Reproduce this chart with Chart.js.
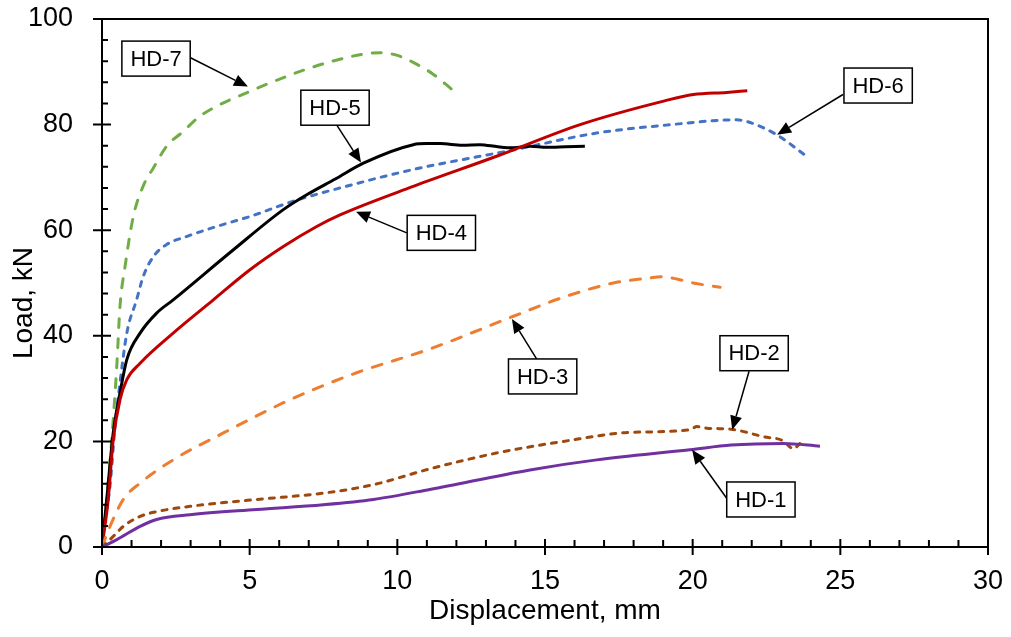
<!DOCTYPE html>
<html>
<head>
<meta charset="utf-8">
<script src="https://cdn.jsdelivr.net/npm/chart.js@4.4.0/dist/chart.umd.min.js"></script>
<style>
  html, body { margin: 0; padding: 0; background: #fff; }
</style>
</head>
<body>
<canvas id="loadChart" width="1011" height="637"></canvas>
<script>
// Load-displacement curves
const hd1X = [0, 0.5, 1.29, 1.85, 2.98, 5.24, 7.49, 9.19, 11.1, 14.49, 16.75, 19.91, 21.3, 23.07, 24.31];
const hd1Y = [0, 1.4, 3.9, 5.2, 6.1, 7.1, 8.0, 9.0, 10.9, 14.6, 16.5, 18.4, 19.3, 19.6, 19.1];

const hd2X = [0, 0.38, 0.72, 1.29, 1.85, 2.98, 5.24, 7.49, 9.19, 11.1, 13.36, 15.62, 17.88, 19.91, 20.14, 20.48, 21.3, 22.39, 23.07, 23.41, 23.63];
const hd2Y = [0, 2.0, 3.9, 5.8, 6.7, 7.7, 9.0, 10.2, 11.8, 14.8, 17.8, 20.0, 21.7, 22.2, 22.8, 22.5, 22.3, 20.9, 20.1, 18.6, 19.6];

const hd3X = [0, 0.27, 0.72, 1.29, 2.41, 4.11, 6.37, 8.62, 11.1, 13.93, 15.62, 17.32, 18.45, 19.0, 19.5, 20.02, 20.93];
const hd3Y = [0, 3.9, 9.0, 12.1, 16.5, 21.6, 27.9, 33.0, 37.5, 43.7, 47.3, 50.0, 50.9, 51.2, 50.7, 50.0, 49.2];

const hd4X = [0, 0.21, 0.38, 0.61, 0.84, 1.29, 2.41, 3.77, 5.01, 6.14, 7.27, 8.06, 10.54, 13.36, 16.19, 19.05, 20.02, 21.15, 21.85];
const hd4Y = [0, 9, 20.3, 27.9, 31.7, 34.8, 40.5, 46.8, 52.5, 56.9, 60.7, 62.9, 68.3, 74.0, 80.0, 84.5, 85.7, 86.1, 86.4];

const hd5X = [0, 0.16, 0.38, 0.61, 0.84, 1.29, 1.85, 2.41, 4.45, 6.14, 6.93, 7.9, 8.85, 10.54, 11.0, 11.45, 12.2, 12.8, 13.4, 13.93, 14.5, 15.06, 15.7, 16.35];
const hd5Y = [0, 9, 21.6, 29.2, 35.5, 40.5, 44.3, 46.8, 56.3, 63.9, 66.7, 69.7, 72.7, 76.2, 76.4, 76.4, 76.1, 76.2, 75.8, 75.6, 75.9, 75.7, 75.8, 75.9];

const hd6X = [0, 0.04, 0.27, 0.44, 0.61, 0.84, 1.17, 1.4, 1.74, 2.19, 2.86, 3.88, 5.01, 6.48, 8.06, 10.54, 13.93, 16.75, 19.1, 21.49, 21.83, 22.84, 23.81];
const hd6Y = [0, 2.6, 11.5, 22.8, 31.1, 40.5, 46.8, 51.3, 55.0, 57.3, 58.8, 60.7, 62.6, 65.5, 68.0, 71.5, 75.2, 78.4, 79.9, 80.9, 80.6, 78.1, 74.2];

const hd7X = [0, 0.16, 0.33, 0.5, 0.61, 0.78, 1.06, 1.39, 1.74, 2.19, 2.75, 3.32, 5.01, 7.8, 9.41, 10.0, 10.6, 11.2, 11.84];
const hd7Y = [0, 9.0, 20.3, 34.2, 45.6, 53.1, 62.6, 68.3, 71.8, 75.9, 78.7, 81.6, 86.3, 92.0, 93.6, 93.1, 91.6, 89.6, 86.7];

// Callout labels: box centre and arrow tail/tip, in data units
const calloutNames = ["HD-1", "HD-2", "HD-3", "HD-4", "HD-5", "HD-6", "HD-7"];
const calloutBox = [[22.31, 9.0], [22.08, 36.7], [14.92, 32.3], [11.49, 59.5], [7.89, 83.2], [26.28, 87.4], [1.83, 92.5]];
const calloutTail = [[21.17, 9.1], [21.91, 33.3], [14.73, 35.5], [10.32, 59.5], [7.95, 79.9], [25.09, 85.7], [2.98, 92.7]];
const calloutTip = [[19.98, 18.4], [21.34, 22.2], [13.88, 43.2], [8.6, 63.5], [8.77, 72.8], [22.86, 78.1], [4.94, 87.2]];

const FONT = "'Liberation Sans', Arial, sans-serif";
Chart.defaults.font.family = FONT;
Chart.defaults.color = "#000";

function pts(xs, ys) {
  return xs.map((x, i) => ({ x: x, y: ys[i] }));
}

function series(label, xs, ys, color, dash) {
  return {
    label: label,
    data: pts(xs, ys),
    borderColor: color,
    borderWidth: 3,
    borderDash: dash,
    borderCapStyle: dash.length ? "round" : "butt",
    borderJoinStyle: "round",
    pointRadius: 0,
    showLine: true,
    fill: false,
    cubicInterpolationMode: "monotone"
  };
}

// Frame, tick marks, y title and callouts
const decorations = {
  id: "decorations",
  afterDraw(chart) {
    const { ctx, chartArea: a, scales: { x, y } } = chart;
    ctx.save();
    ctx.strokeStyle = "#000";
    ctx.lineWidth = 2;
    ctx.strokeRect(a.left, a.top, a.right - a.left, a.bottom - a.top);

    ctx.beginPath();
    for (let v = 0; v <= 30; v += 1) {
      const px = x.getPixelForValue(v);
      if (v % 5 === 0) { ctx.moveTo(px, a.bottom - 8); ctx.lineTo(px, a.bottom + 8); }
      else { ctx.moveTo(px, a.bottom - 7); ctx.lineTo(px, a.bottom); }
    }
    for (let v = 0; v <= 100; v += 4) {
      const py = y.getPixelForValue(v);
      if (v % 20 === 0) { ctx.moveTo(a.left - 9, py); ctx.lineTo(a.left + 9, py); }
      else { ctx.moveTo(a.left, py); ctx.lineTo(a.left + 6, py); }
    }
    ctx.stroke();

    // y axis title (sits a little below the centre, as in the reference)
    ctx.save();
    ctx.translate(24, 303);
    ctx.rotate(-Math.PI / 2);
    ctx.font = "28px " + FONT;
    ctx.fillStyle = "#000";
    ctx.textAlign = "center";
    ctx.textBaseline = "middle";
    ctx.fillText("Load, kN", 0, 0);
    ctx.restore();

    // callouts
    ctx.font = "22px " + FONT;
    ctx.textAlign = "center";
    ctx.textBaseline = "middle";
    calloutNames.forEach((name, i) => {
      const tx = x.getPixelForValue(calloutTail[i][0]);
      const ty = y.getPixelForValue(calloutTail[i][1]);
      const hx = x.getPixelForValue(calloutTip[i][0]);
      const hy = y.getPixelForValue(calloutTip[i][1]);
      const ang = Math.atan2(hy - ty, hx - tx);
      const len = 14, half = 6;
      const bx = hx - len * Math.cos(ang), by = hy - len * Math.sin(ang);

      ctx.lineWidth = 1.5;
      ctx.beginPath();
      ctx.moveTo(tx, ty);
      ctx.lineTo(bx, by);
      ctx.stroke();
      ctx.fillStyle = "#000";
      ctx.beginPath();
      ctx.moveTo(hx, hy);
      ctx.lineTo(bx + half * Math.sin(ang), by - half * Math.cos(ang));
      ctx.lineTo(bx - half * Math.sin(ang), by + half * Math.cos(ang));
      ctx.closePath();
      ctx.fill();

      const cx = x.getPixelForValue(calloutBox[i][0]);
      const cy = y.getPixelForValue(calloutBox[i][1]);
      const w = ctx.measureText(name).width + 17;
      const h = 35;
      ctx.fillStyle = "#fff";
      ctx.fillRect(cx - w / 2, cy - h / 2, w, h);
      ctx.strokeRect(cx - w / 2, cy - h / 2, w, h);
      ctx.fillStyle = "#000";
      ctx.fillText(name, cx, cy + 1);
    });
    ctx.restore();
  }
};

new Chart(document.getElementById("loadChart"), {
  type: "scatter",
  data: {
    datasets: [
      series("HD-1", hd1X, hd1Y, "#7030A0", []),
      series("HD-2", hd2X, hd2Y, "#9E480E", [5, 7]),
      series("HD-3", hd3X, hd3Y, "#ED7D31", [10, 11]),
      series("HD-4", hd4X, hd4Y, "#C00000", []),
      series("HD-5", hd5X, hd5Y, "#000000", []),
      series("HD-6", hd6X, hd6Y, "#4472C4", [5, 7]),
      series("HD-7", hd7X, hd7Y, "#70AD47", [9, 11])
    ]
  },
  options: {
    responsive: false,
    animation: false,
    devicePixelRatio: 1,
    layout: { padding: { top: 19, right: 23, left: 0, bottom: 0 } },
    plugins: { legend: { display: false }, tooltip: { enabled: false } },
    scales: {
      x: {
        type: "linear",
        min: 0,
        max: 30,
        afterFit(scale) {
          scale.height = 90;
          scale.paddingLeft = 0;
          scale.paddingRight = 0;
        },
        grid: { display: false, drawTicks: false },
        border: { display: false },
        ticks: { stepSize: 5, padding: 18, font: { size: 27 }, maxRotation: 0 },
        title: { display: true, text: "Displacement, mm", font: { size: 28 }, padding: { top: 0, bottom: 9 } }
      },
      y: {
        type: "linear",
        min: 0,
        max: 100,
        afterFit(scale) {
          scale.width = 102;
          scale.paddingTop = 0;
          scale.paddingBottom = 0;
        },
        grid: { display: false, drawTicks: false },
        border: { display: false },
        ticks: { stepSize: 20, padding: 29, font: { size: 27 } }
      }
    }
  },
  plugins: [decorations]
});
</script>
</body>
</html>
